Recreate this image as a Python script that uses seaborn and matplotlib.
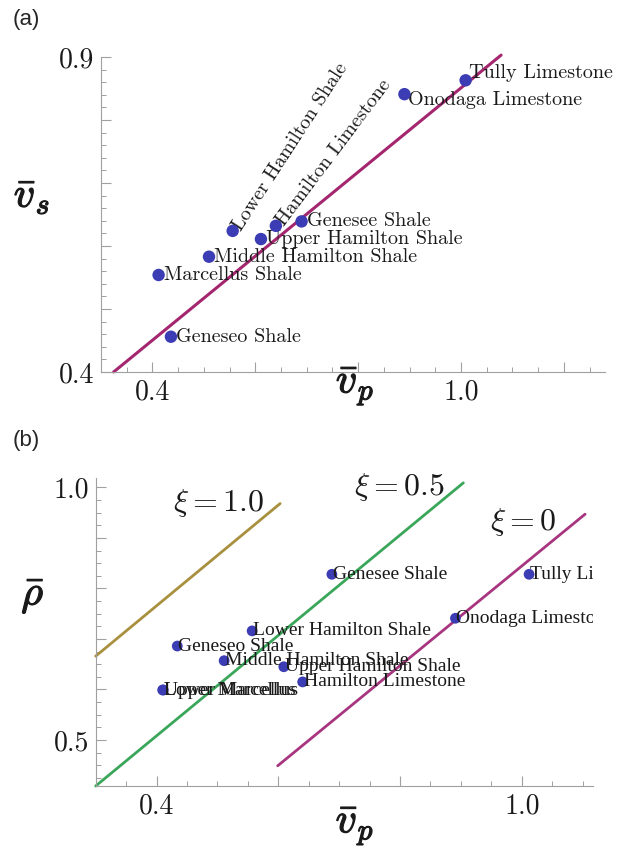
import numpy as np
import pandas as pd
import seaborn as sns
import matplotlib.pyplot as plt
import matplotlib.patheffects as pe
from matplotlib.ticker import FixedLocator, MultipleLocator, FixedFormatter

# panel (a): shear vs compressional velocity
a_names = ['Geneseo Shale', 'Marcellus Shale', 'Middle Hamilton Shale', 'Lower Hamilton Shale',
           'Upper Hamilton Shale', 'Hamilton Limestone', 'Genesee Shale', 'Onodaga Limestone',
           'Tully Limestone']
a_vp = [0.436, 0.412, 0.510, 0.556, 0.611, 0.640, 0.690, 0.890, 1.009]
a_vs = [0.456, 0.554, 0.583, 0.624, 0.611, 0.632, 0.639, 0.841, 0.863]
a_line_vp = [0.3245, 1.078]
a_line_vs = [0.40, 0.903]

# panel (b): density vs compressional velocity
b_names = ['Lower Marcellus', 'Upper Marcellus', 'Geneseo Shale', 'Middle Hamilton Shale',
           'Lower Hamilton Shale', 'Upper Hamilton Shale', 'Hamilton Limestone', 'Genesee Shale',
           'Onodaga Limestone', 'Tully Limestone']
b_vp = [0.410, 0.411, 0.434, 0.511, 0.557, 0.609, 0.640, 0.688, 0.891, 1.012]
b_rho = [0.599, 0.599, 0.686, 0.657, 0.716, 0.645, 0.615, 0.828, 0.741, 0.828]
xi_labels = [r'$\xi = 1.0$', r'$\xi = 0.5$', r'$\xi = 0$']
xi_vp = [[0.30, 0.603], [0.30, 0.904], [0.599, 1.104]]
xi_rho = [[0.666, 0.968], [0.409, 1.009], [0.449, 0.947]]
xi_text_pos = [(0.502, 0.969), (0.80, 1.0), (1.002, 0.931)]
xi_colors = ['#a8903e', '#3aa65a', '#a8357f']

sns.set_style('white')
plt.rcParams['mathtext.fontset'] = 'cm'
plt.rcParams['font.family'] = ['DejaVu Serif']

dot = '#3c3cb4'
spine_col = '#a0a0a0'
bold = [pe.withStroke(linewidth=0.9, foreground='#1a1a1a')]

fig = plt.figure(figsize=(6.18, 8.5), dpi=100)
ax1 = fig.add_axes([101 / 618, 1 - 372 / 850, (605 - 101) / 618, (372 - 57) / 850])
ax2 = fig.add_axes([95.7 / 618, 1 - 786 / 850, (593 - 95.7) / 618, (786 - 478.3) / 850])


def style_axes(ax, xlim, ylim, xmaj, xlab, ymaj, ylab, xminor, yminor):
    ax.set_xlim(*xlim)
    ax.set_ylim(*ylim)
    for s in ['top', 'right']:
        ax.spines[s].set_visible(False)
    for s in ['left', 'bottom']:
        ax.spines[s].set_color(spine_col)
        ax.spines[s].set_linewidth(0.8)
    ax.xaxis.set_major_locator(FixedLocator(xmaj))
    ax.xaxis.set_major_formatter(FixedFormatter(xlab))
    ax.yaxis.set_major_locator(FixedLocator(ymaj))
    ax.yaxis.set_major_formatter(FixedFormatter(ylab))
    ax.xaxis.set_minor_locator(MultipleLocator(xminor))
    ax.yaxis.set_minor_locator(MultipleLocator(yminor))
    ax.tick_params(which='major', direction='in', length=7, width=0.8, color=spine_col,
                   labelsize=20, pad=5, left=True, bottom=True, labelcolor='#1a1a1a')
    ax.tick_params(which='minor', direction='in', length=3.5, width=0.7, color=spine_col,
                   left=True, bottom=True)
    for lab in ax.get_xticklabels() + ax.get_yticklabels():
        lab.set_fontfamily('cmr10')


# ---- panel (a)
df_a = pd.DataFrame({'vp': a_vp, 'vs': a_vs, 'name': a_names})
sns.lineplot(x=a_line_vp, y=a_line_vs, ax=ax1, color='#a3266f', lw=2.2, clip_on=False)
sns.scatterplot(data=df_a, x='vp', y='vs', ax=ax1, color=dot, s=80, edgecolor='none', zorder=5,
                clip_on=False)
style_axes(ax1, (0.30, 1.28), (0.40, 0.90),
           [0.4, 0.6, 0.8, 1.0, 1.2], ['0.4', '', '', '1.0', ''],
           [0.4, 0.5, 0.6, 0.7, 0.8, 0.9], ['0.4', '', '', '', '', '0.9'], 0.05, 0.02)

a_offsets = {'Onodaga Limestone': (4, -6, 0), 'Tully Limestone': (3, 7, 0),
             'Lower Hamilton Shale': (4, 2, 57), 'Hamilton Limestone': (4, 2, 53)}
for n, x, y in zip(a_names, a_vp, a_vs):
    dx, dy, rot = a_offsets.get(n, (5, 0, 0))
    ax1.annotate(n, (x, y), xytext=(dx, dy), textcoords='offset pixels', ha='left', va='center',
                 rotation=rot, rotation_mode='anchor', fontsize=14.5, family='cmr10',
                 color='#1a1a1a', annotation_clip=False)
ax1.set_xlabel(r'$\bar{v}_p$', fontsize=30, va='center')
ax1.xaxis.set_label_coords(0.504, -0.045)
ax1.set_ylabel(r'$\bar{v}_s$', fontsize=30, rotation=0, va='center', ha='center')
ax1.yaxis.set_label_coords(-0.137, 0.562)

# ---- panel (b)
for xs, ys, c in zip(xi_vp, xi_rho, xi_colors):
    sns.lineplot(x=xs, y=ys, ax=ax2, color=c, lw=2.0, clip_on=False)
df_b = pd.DataFrame({'vp': b_vp, 'rho': b_rho, 'name': b_names})
sns.scatterplot(data=df_b, x='vp', y='rho', ax=ax2, color=dot, s=60, edgecolor='none', zorder=5)
style_axes(ax2, (0.30, 1.117), (0.409, 1.018),
           [0.4, 0.6, 0.8, 1.0], ['0.4', '', '', '1.0'],
           [0.5, 0.6, 0.7, 0.8, 0.9, 1.0], ['0.5', '', '', '', '', '1.0'], 0.05, 0.025)
for n, x, y in zip(b_names, b_vp, b_rho):
    ax2.annotate(n, (x, y), xytext=(1, 0), textcoords='offset pixels', ha='left', va='center',
                 fontsize=14, family='Liberation Serif', color='#1a1a1a', zorder=6, clip_on=True)
for lab, (tx, ty) in zip(xi_labels, xi_text_pos):
    ax2.text(tx, ty, lab, fontsize=23, ha='center', va='center', color='#1a1a1a')
ax2.set_xlabel(r'$\bar{v}_p$', fontsize=30, va='center')
ax2.xaxis.set_label_coords(0.521, -0.13)
ax2.set_ylabel(r'$\bar{\rho}$', fontsize=30, rotation=0, va='center', ha='center')
ax2.yaxis.set_label_coords(-0.126, 0.621)

for ax in (ax1, ax2):
    ax.xaxis.label.set_path_effects(bold)
    ax.yaxis.label.set_path_effects(bold)
    ax.xaxis.label.set_color('#1a1a1a')
    ax.yaxis.label.set_color('#1a1a1a')

fig.text(13 / 618, 1 - 20 / 850, '(a)', fontsize=16, family='Liberation Sans', va='center')
fig.text(13 / 618, 1 - 440 / 850, '(b)', fontsize=16, family='Liberation Sans', va='center')

fig.savefig('out.png', dpi=100)
